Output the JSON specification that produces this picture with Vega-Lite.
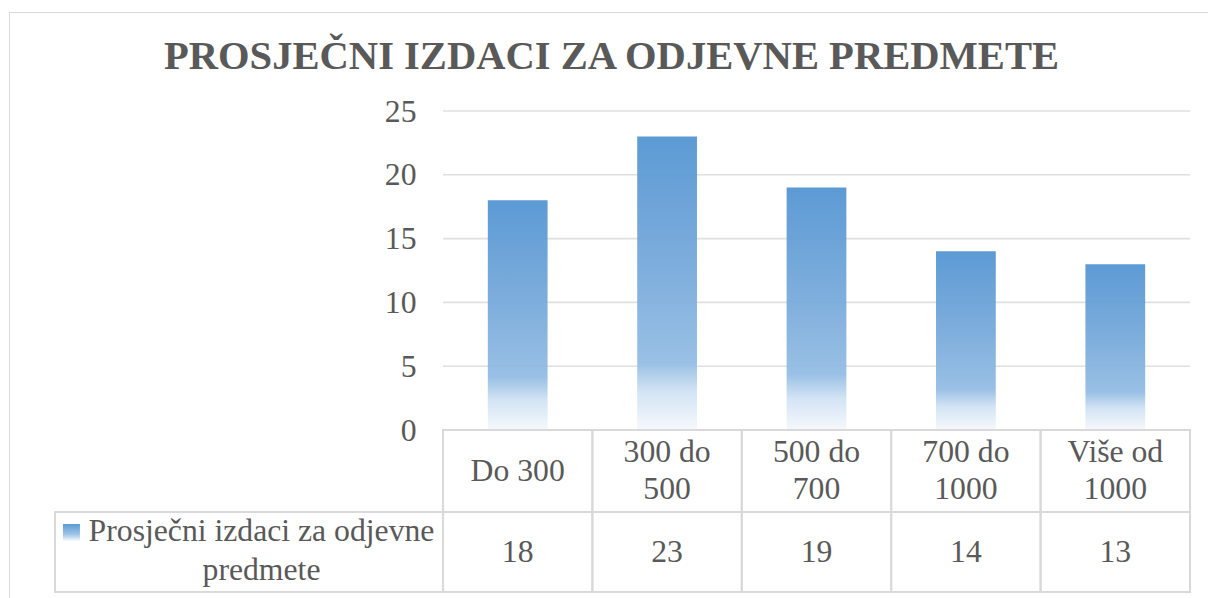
{
  "$schema": "https://vega.github.io/schema/vega-lite/v6.json",
  "width": 1199,
  "height": 586,
  "autosize": {"type": "none"},
  "padding": {"left": 9, "top": 12, "right": 0, "bottom": 0},
  "background": "white",
  "config": {
    "view": {"stroke": "#D9D9D9", "strokeWidth": 1},
    "font": "Liberation Serif",
    "axisY": {"labelFont": "Liberation Serif"}
  },
  "title": {
    "text": "PROSJEČNI IZDACI ZA ODJEVNE PREDMETE",
    "font": "Liberation Serif",
    "fontSize": 40.6,
    "fontWeight": "bold",
    "color": "#595959",
    "anchor": "middle",
    "frame": "group",
    "baseline": "alphabetic",
    "offset": -98,
    "dx": 3
  },
  "datasets": {
    "izdaci": [
      {"kategorija": "Do 300", "oznaka": ["Do 300"], "vrijednost": 18},
      {"kategorija": "300 do 500", "oznaka": ["300 do", "500"], "vrijednost": 23},
      {"kategorija": "500 do 700", "oznaka": ["500 do", "700"], "vrijednost": 19},
      {"kategorija": "700 do 1000", "oznaka": ["700 do", "1000"], "vrijednost": 14},
      {"kategorija": "Više od 1000", "oznaka": ["Više od", "1000"], "vrijednost": 13}
    ],
    "mreza": [{"v": 5}, {"v": 10}, {"v": 15}, {"v": 20}, {"v": 25}],
    "legenda": [{"serija": ["Prosječni izdaci za odjevne", "predmete"]}]
  },
  "resolve": {"scale": {"x": "independent"}, "axis": {"x": "independent"}},
  "layer": [
    {
      "layer": [
        {
          "data": {"name": "mreza"},
          "mark": {"type": "rule", "color": "#E0E0E0", "strokeWidth": 1.6},
          "encoding": {
            "x": {"datum": 0, "type": "quantitative", "axis": null, "scale": {"domain": [-2.905, 5.12], "nice": false, "zero": false}},
            "x2": {"datum": 5},
            "y": {"field": "v", "type": "quantitative", "title": null}
          }
        },
        {
          "data": {"name": "legenda"},
          "mark": {"type": "rect", "fill": "white", "fillOpacity": 0, "stroke": "#D9D9D9", "strokeWidth": 2},
          "encoding": {
            "x": {"datum": -2.597, "type": "quantitative", "axis": null},
            "x2": {"datum": 0},
            "y": {"datum": -6.43, "type": "quantitative", "title": null},
            "y2": {"datum": -12.7}
          }
        },
        {
          "data": {"name": "legenda"},
          "mark": {
            "type": "point",
            "shape": "square",
            "size": 289,
            "filled": true,
            "opacity": 1,
            "strokeWidth": 0,
            "color": {
              "gradient": "linear", "x1": 0, "y1": 0, "x2": 0, "y2": 1,
              "stops": [
                {"offset": 0, "color": "#5B9BD5"},
                {"offset": 0.6, "color": "#9DC3E6"},
                {"offset": 1, "color": "#F7FAFD"}
              ]
            }
          },
          "encoding": {
            "x": {"datum": -2.487, "type": "quantitative", "axis": null},
            "y": {"datum": -8.03, "type": "quantitative", "title": null}
          }
        },
        {
          "data": {"name": "legenda"},
          "mark": {"type": "text", "font": "Liberation Serif", "fontSize": 31.7, "color": "#595959", "align": "center", "baseline": "middle", "lineHeight": 38.5},
          "encoding": {
            "x": {"datum": -1.215, "type": "quantitative", "axis": null},
            "y": {"datum": -7.95, "type": "quantitative", "title": null},
            "text": {"field": "serija"}
          }
        }
      ]
    },
    {
      "data": {"name": "izdaci"},
      "encoding": {
        "x": {
          "field": "kategorija",
          "type": "nominal",
          "axis": null,
          "scale": {
            "domain": ["_a", "_b", "Do 300", "300 do 500", "500 do 700", "700 do 1000", "Više od 1000"],
            "paddingInner": 0,
            "paddingOuter": 0.5127,
            "align": 0.8825
          }
        }
      },
      "layer": [
        {
          "mark": {
            "type": "bar",
            "width": {"band": 0.4},
            "opacity": 0.94,
            "color": {
              "gradient": "linear", "x1": 0, "y1": 0, "x2": 0, "y2": 1,
              "stops": [
                {"offset": 0, "color": "#5294D2"},
                {"offset": 0.45, "color": "#76A9DA"},
                {"offset": 0.77, "color": "#93BCE3"},
                {"offset": 0.87, "color": "#D0E2F3"},
                {"offset": 1, "color": "#F5F8FC"}
              ]
            }
          },
          "encoding": {
            "y": {
              "field": "vrijednost",
              "type": "quantitative",
              "title": null,
              "scale": {"domain": [-13.166, 32.76], "nice": false, "zero": false},
              "axis": {
                "values": [0, 5, 10, 15, 20, 25],
                "offset": -434,
                "grid": false,
                "ticks": false,
                "domain": false,
                "labelPadding": 27,
                "labelFontSize": 31.7,
                "labelColor": "#595959",
                "labelFont": "Liberation Serif"
              }
            },
            "y2": {"datum": 0}
          }
        },
        {
          "mark": {"type": "rect", "fill": "white", "fillOpacity": 0, "stroke": "#D9D9D9", "strokeWidth": 2},
          "encoding": {
            "y": {"datum": 0, "type": "quantitative", "title": null},
            "y2": {"datum": -6.43}
          }
        },
        {
          "mark": {"type": "rect", "fill": "white", "fillOpacity": 0, "stroke": "#D9D9D9", "strokeWidth": 2},
          "encoding": {
            "y": {"datum": -6.43, "type": "quantitative", "title": null},
            "y2": {"datum": -12.7}
          }
        },
        {
          "transform": [{"filter": "length(datum.oznaka) == 1"}],
          "mark": {"type": "text", "font": "Liberation Serif", "fontSize": 31.7, "color": "#595959", "align": "center", "baseline": "middle", "lineHeight": 36.5},
          "encoding": {
            "y": {"datum": -3.2, "type": "quantitative", "title": null},
            "text": {"field": "oznaka"}
          }
        },
        {
          "transform": [{"filter": "length(datum.oznaka) > 1"}],
          "mark": {"type": "text", "font": "Liberation Serif", "fontSize": 31.7, "color": "#595959", "align": "center", "baseline": "middle", "lineHeight": 36.5},
          "encoding": {
            "y": {"datum": -1.76, "type": "quantitative", "title": null},
            "text": {"field": "oznaka"}
          }
        },
        {
          "mark": {"type": "text", "font": "Liberation Serif", "fontSize": 31.7, "color": "#595959", "align": "center", "baseline": "middle"},
          "encoding": {
            "y": {"datum": -9.56, "type": "quantitative", "title": null},
            "text": {"field": "vrijednost", "type": "quantitative"}
          }
        }
      ]
    }
  ]
}
